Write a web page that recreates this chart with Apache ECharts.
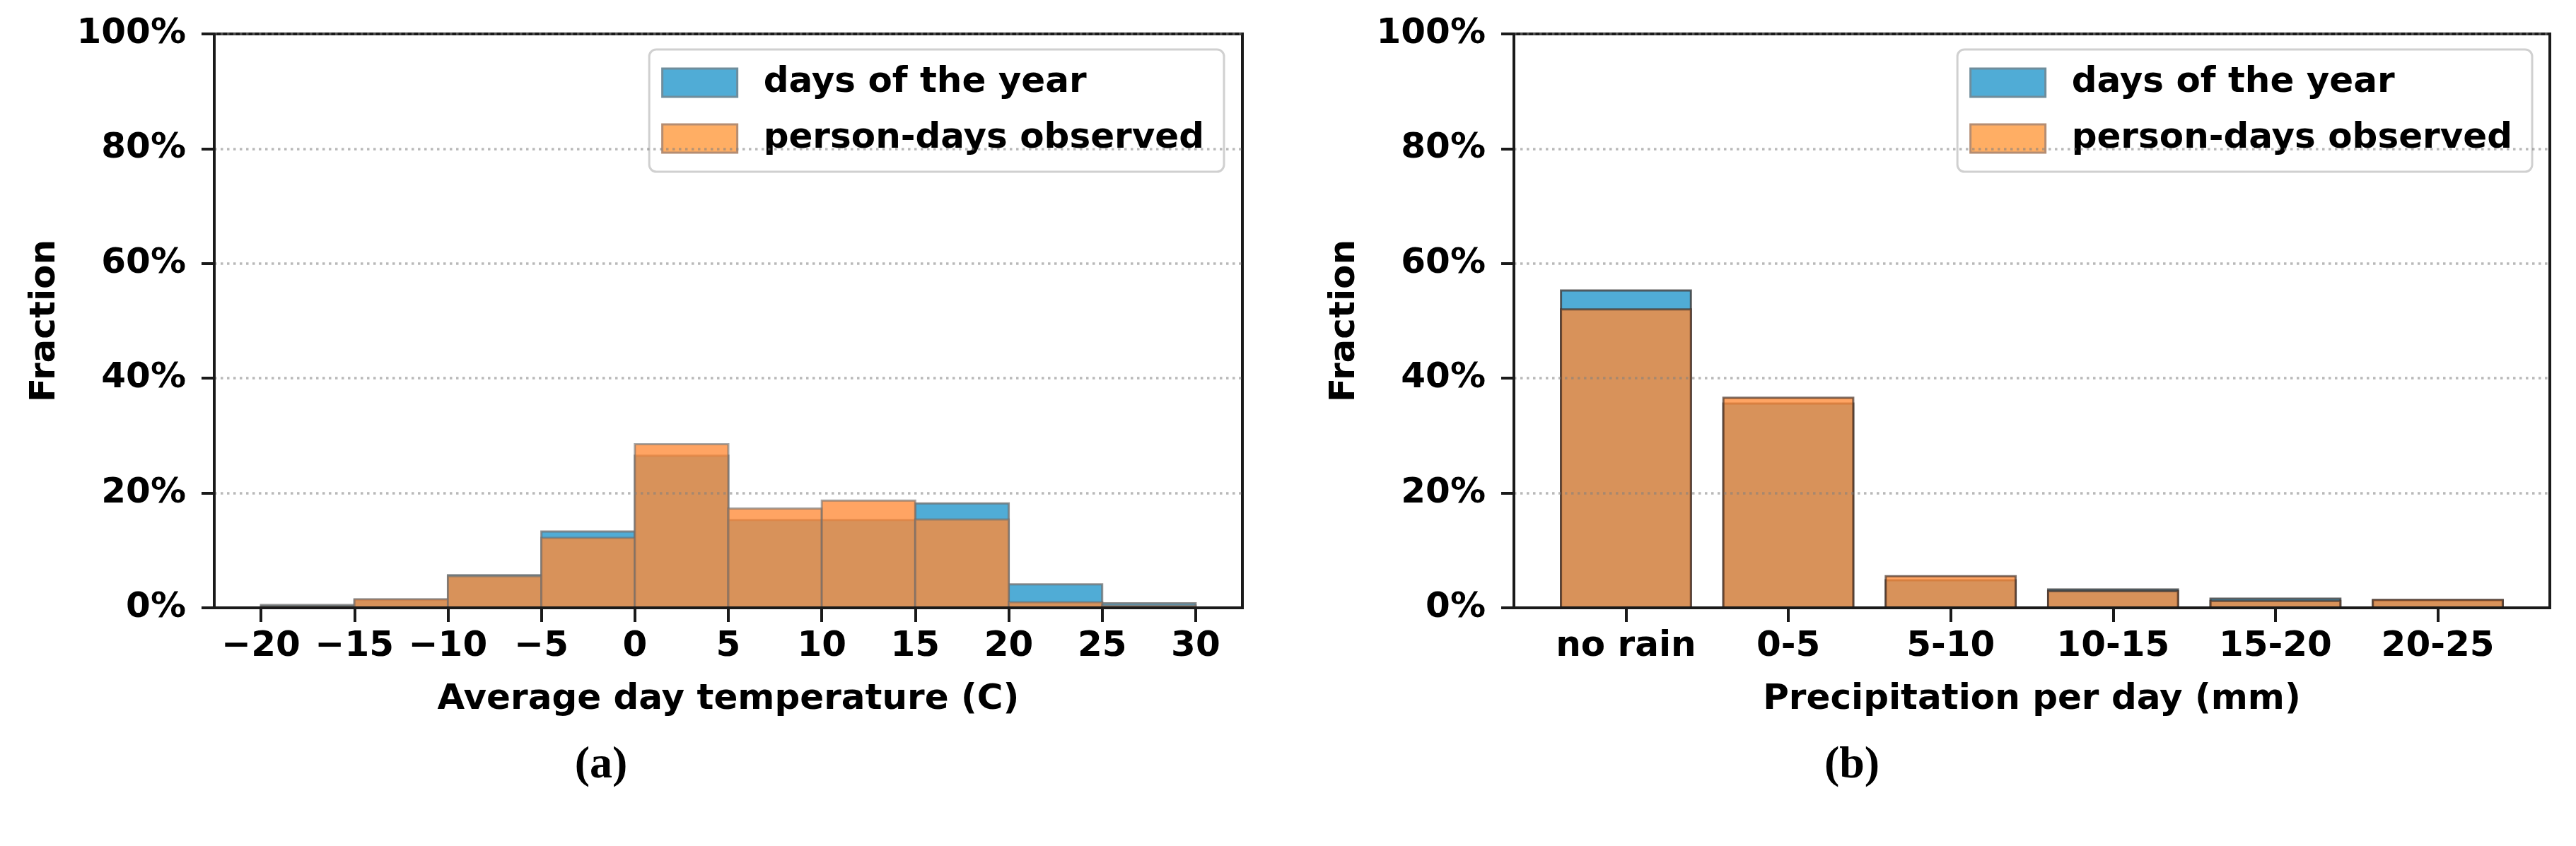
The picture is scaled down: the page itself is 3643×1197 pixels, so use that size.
<!DOCTYPE html>
<html>
<head>
<meta charset="utf-8">
<script src="https://cdn.jsdelivr.net/npm/echarts@6/dist/echarts.min.js"></script>
<style>
html, body { margin: 0; padding: 0; background: #ffffff; }
#chart { width: 3643px; height: 1197px; }
</style>
</head>
<body>
<div id="chart"></div>
<script>
// ---------------- data ----------------
const seriesNames = ['days of the year', 'person-days observed'];

// (a) temperature histogram: bin edges (°C) and fractions (%)
const tempBinEdges = [-20, -15, -10, -5, 0, 5, 10, 15, 20, 25, 30];
const tempDaysOfYear = [0.5, 1.4, 5.7, 13.3, 26.5, 15.3, 15.3, 18.2, 4.1, 0.8];
const tempPersonDays = [0.3, 1.5, 5.5, 12.2, 28.5, 17.3, 18.7, 15.4, 1.0, 0.4];
const tempTicks = [-20, -15, -10, -5, 0, 5, 10, 15, 20, 25, 30];

// (b) precipitation categories and fractions (%)
const precipCategories = ['no rain', '0-5', '5-10', '10-15', '15-20', '20-25'];
const precipDaysOfYear = [55.3, 35.6, 4.8, 3.2, 1.6, 1.3];
const precipPersonDays = [52.0, 36.6, 5.5, 2.9, 1.2, 1.4];

const yTicks = [0, 20, 40, 60, 80, 100];
const panelLabels = ['(a)', '(b)'];
const xTitles = ['Average day temperature (C)', 'Precipitation per day (mm)'];
const yTitle = 'Fraction';

// ---------------- styles ----------------
const FONT = "'DejaVu Sans', 'Liberation Sans', sans-serif";
const BLUE = '#50acd6';
const ORANGE = 'rgba(255,139,55,0.78)';
const AXIS_COLOR = '#1a1a1a';

function toMinus(v) { return v < 0 ? '\u2212' + Math.abs(v) : String(v); }

function rectRender(fill, stroke, lw) {
  return function (params, api) {
    const x0 = api.value(0), x1 = api.value(1), y = api.value(2);
    const pTop = api.coord([x0, y]);
    const pBot = api.coord([x1, 0]);
    return {
      type: 'rect',
      shape: { x: pTop[0], y: pTop[1], width: pBot[0] - pTop[0], height: pBot[1] - pTop[1] },
      style: { fill: fill, stroke: stroke, lineWidth: lw }
    };
  };
}

const tempDaysData = tempDaysOfYear.map((v, i) => [tempBinEdges[i], tempBinEdges[i + 1], v]);
const tempPersonData = tempPersonDays.map((v, i) => [tempBinEdges[i], tempBinEdges[i + 1], v]);
const precipDaysData = precipDaysOfYear.map((v, i) => [i - 0.4, i + 0.4, v]);
const precipPersonData = precipPersonDays.map((v, i) => [i - 0.4, i + 0.4, v]);

const grids = [
  { left: 303, top: 48, width: 1454, height: 812 },
  { left: 2141, top: 48, width: 1465, height: 812 }
];

function yAxisFor(gi) {
  return {
    gridIndex: gi, type: 'value', min: 0, max: 100, interval: 20, z: 5,
    name: yTitle, nameLocation: 'middle', nameGap: 214,
    nameTextStyle: { fontFamily: FONT, fontWeight: 'bold', fontSize: 50, color: '#000' },
    axisLine: { show: true, onZero: false, lineStyle: { color: AXIS_COLOR, width: 4 } },
    axisTick: { show: true, length: 18, lineStyle: { color: AXIS_COLOR, width: 4 } },
    axisLabel: { margin: 40, customValues: yTicks, fontFamily: FONT, fontWeight: 'bold', fontSize: 50, color: '#000',
                 formatter: v => v + '%' },
    splitLine: { show: true, lineStyle: { color: 'rgba(128,128,128,0.55)', width: 3.5, type: [3.5, 5.5] } }
  };
}

function legendFor(rightPx) {
  return {
    right: rightPx, top: 70,
    orient: 'vertical', selectedMode: false,
    icon: 'rect', itemWidth: 106, itemHeight: 40, itemGap: 23,
    padding: [19, 28, 19, 17],
    backgroundColor: 'rgba(255,255,255,0.85)', borderColor: '#d0d0d0', borderWidth: 3, borderRadius: 10,
    textStyle: { fontFamily: FONT, fontWeight: 'bold', fontSize: 50, color: '#000', lineHeight: 56, padding: [0, 0, 0, 32] },
    data: [
      { name: seriesNames[0], itemStyle: { color: BLUE, borderColor: '#6f8d9c', borderWidth: 3 } },
      { name: seriesNames[1], itemStyle: { color: '#ffae64', borderColor: '#b58d72', borderWidth: 3 } }
    ]
  };
}

const panelTitleStyle = { fontFamily: "'Liberation Serif', serif", fontWeight: 'bold', fontSize: 64, color: '#000' };

const option = {
  backgroundColor: '#ffffff',
  animation: false,
  grid: grids.map(g => Object.assign({ show: true, borderColor: AXIS_COLOR, borderWidth: 4, backgroundColor: 'transparent' }, g)),
  xAxis: [
    {
      gridIndex: 0, type: 'value', min: -22.5, max: 32.5, z: 5,
      name: xTitles[0], nameLocation: 'middle', nameGap: 105,
      nameTextStyle: { fontFamily: FONT, fontWeight: 'bold', fontSize: 50, color: '#000' },
      axisLine: { show: true, onZero: false, lineStyle: { color: AXIS_COLOR, width: 4 } },
      axisTick: { show: true, length: 20, customValues: tempTicks, lineStyle: { color: AXIS_COLOR, width: 4 } },
      axisLabel: { margin: 30, customValues: tempTicks, fontFamily: FONT, fontWeight: 'bold', fontSize: 50, color: '#000',
                   formatter: v => toMinus(v) },
      splitLine: { show: false }
    },
    {
      gridIndex: 1, type: 'value', min: -0.69, max: 5.69, z: 5,
      name: xTitles[1], nameLocation: 'middle', nameGap: 105,
      nameTextStyle: { fontFamily: FONT, fontWeight: 'bold', fontSize: 50, color: '#000' },
      axisLine: { show: true, onZero: false, lineStyle: { color: AXIS_COLOR, width: 4 } },
      axisTick: { show: true, length: 20, customValues: precipCategories.map((c, i) => i), lineStyle: { color: AXIS_COLOR, width: 4 } },
      axisLabel: { margin: 30, customValues: precipCategories.map((c, i) => i), fontFamily: FONT, fontWeight: 'bold', fontSize: 50, color: '#000',
                   formatter: v => precipCategories[Math.round(v)] },
      splitLine: { show: false }
    }
  ],
  yAxis: [yAxisFor(0), yAxisFor(1)],
  legend: [legendFor(3643 - 1731), legendFor(3643 - 3581)],
  title: [
    { text: panelLabels[0], left: 845, top: 1046, textAlign: 'center', textStyle: panelTitleStyle },
    { text: panelLabels[1], left: 2614, top: 1046, textAlign: 'center', textStyle: panelTitleStyle }
  ],
  series: [
    { name: seriesNames[0], type: 'custom', xAxisIndex: 0, yAxisIndex: 0, z: 2,
      itemStyle: { color: BLUE }, renderItem: rectRender(BLUE, 'rgba(110,110,110,0.75)', 3),
      encode: { x: [0, 1], y: 2 }, data: tempDaysData },
    { name: seriesNames[1], type: 'custom', xAxisIndex: 0, yAxisIndex: 0, z: 3,
      itemStyle: { color: '#ffae64' }, renderItem: rectRender(ORANGE, 'rgba(110,110,110,0.6)', 3),
      encode: { x: [0, 1], y: 2 }, data: tempPersonData },
    { name: seriesNames[0], type: 'custom', xAxisIndex: 1, yAxisIndex: 1, z: 2,
      itemStyle: { color: BLUE }, renderItem: rectRender(BLUE, 'rgba(60,60,60,0.8)', 3),
      encode: { x: [0, 1], y: 2 }, data: precipDaysData },
    { name: seriesNames[1], type: 'custom', xAxisIndex: 1, yAxisIndex: 1, z: 3,
      itemStyle: { color: '#ffae64' }, renderItem: rectRender(ORANGE, 'rgba(70,50,40,0.7)', 3),
      encode: { x: [0, 1], y: 2 }, data: precipPersonData }
  ]
};

const chart = echarts.init(document.getElementById('chart'));
chart.setOption(option);
</script>
</body>
</html>
